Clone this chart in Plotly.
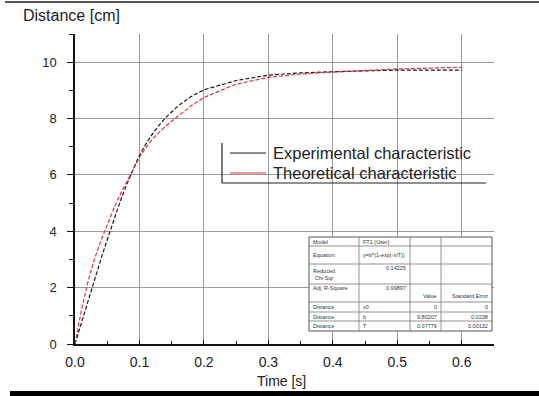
import plotly.graph_objects as go

# ---- data ----
time_exp = [0, 0.01, 0.02, 0.03, 0.04, 0.05, 0.06, 0.07, 0.08, 0.09, 0.10, 0.11, 0.12, 0.13, 0.14, 0.16,
            0.18, 0.20, 0.25, 0.30, 0.35, 0.40, 0.45, 0.50, 0.55, 0.60]
dist_exp = [0, 0.75, 1.55, 2.3, 3.0, 3.7, 4.4, 5.05, 5.65, 6.2, 6.7, 7.1, 7.45, 7.75, 8.02, 8.45,
            8.78, 9.02, 9.35, 9.54, 9.62, 9.66, 9.69, 9.72, 9.72, 9.72]
time_theo = [0, 0.01, 0.02, 0.03, 0.04, 0.05, 0.06, 0.07, 0.08, 0.09, 0.10, 0.11, 0.12, 0.14, 0.16,
             0.18, 0.20, 0.25, 0.30, 0.35, 0.40, 0.45, 0.50, 0.55, 0.60]
dist_theo = [0, 1.2, 2.2, 3.0, 3.65, 4.25, 4.8, 5.3, 5.75, 6.2, 6.62, 6.97, 7.27, 7.72, 8.1,
             8.45, 8.75, 9.22, 9.46, 9.58, 9.65, 9.71, 9.76, 9.79, 9.82]

x_ticks = [0.0, 0.1, 0.2, 0.3, 0.4, 0.5, 0.6]
y_ticks = [0, 2, 4, 6, 8, 10]

legend_names = ["Experimental characteristic", "Theoretical characteristic"]
series_colors = ["#1a1a1a", "#e0303c"]

table_col1 = ["Model", "Equation", "Reduced<br>Chi-Sqr", "Adj. R-Square", "Distance", "Distance", "Distance"]
table_col2 = ["FT1 (User)", "y=b*(1-exp(-x/T))", "0.14225", "0.99897", "x0", "b", "T"]
table_col3 = ["", "", "", "Value", "0", "9.80207", "0.07779"]
table_col4 = ["", "", "", "Standard Error", "0", "0.0238", "0.00132"]

# ---- layout geometry (pixels) ----
W, H = 539, 396
L, R, T, B = 75, 45, 34, 52
PW, PH = W - L - R, H - T - B


def px(x):
    return (x - L) / PW


def py(y):
    return (H - B - y) / PH


FONT = "Liberation Sans, Arial, sans-serif"

fig = go.Figure()
fig.add_trace(go.Scatter(x=time_exp, y=dist_exp, mode="lines", name=legend_names[0], showlegend=False,
                         line=dict(color=series_colors[0], width=1.2, dash="4px,2px")))
fig.add_trace(go.Scatter(x=time_theo, y=dist_theo, mode="lines", name=legend_names[1], showlegend=False,
                         line=dict(color=series_colors[1], width=1.2, dash="4px,2px")))

shapes = []
annotations = []

# top thin line and bottom thick bar
shapes.append(dict(type="line", xref="paper", yref="paper", x0=px(5), x1=px(539), y0=py(2), y1=py(2),
                   line=dict(color="#222", width=1.5)))
shapes.append(dict(type="rect", xref="paper", yref="paper", x0=px(10), x1=px(540), y0=py(391), y1=py(397),
                   fillcolor="black", line=dict(width=0)))
# legend L-shaped frame
shapes.append(dict(type="line", xref="paper", yref="paper", x0=px(222), x1=px(222), y0=py(143), y1=py(183),
                   line=dict(color="#222", width=1.2)))
shapes.append(dict(type="line", xref="paper", yref="paper", x0=px(222), x1=px(486), y0=py(183), y1=py(183),
                   line=dict(color="#222", width=1.2)))
# legend items
for i, (name, col) in enumerate(zip(legend_names, series_colors)):
    yy = 153 + 20 * i
    shapes.append(dict(type="line", xref="paper", yref="paper", x0=px(230), x1=px(266), y0=py(yy), y1=py(yy),
                       line=dict(color=col, width=1)))
    annotations.append(dict(x=px(271), y=py(yy), xref="paper", yref="paper", text=name, showarrow=False,
                            xanchor="left", yanchor="middle",
                            font=dict(family=FONT, size=16.5, color="#222")))

# fit table
tx0, tx1 = 309, 492
cols = [309, 359, 410, 441, 492]
rows = [237, 246, 264, 284, 302, 312, 321, 331]
shapes.append(dict(type="rect", xref="paper", yref="paper", x0=px(tx0), x1=px(tx1), y0=py(rows[0]), y1=py(rows[-1]),
                   fillcolor="white", line=dict(color="#555", width=1), layer="above"))
for c in cols[1:-1]:
    shapes.append(dict(type="line", xref="paper", yref="paper", x0=px(c), x1=px(c), y0=py(rows[0]), y1=py(rows[-1]),
                       line=dict(color="#777", width=0.8)))
for r in rows[1:-1]:
    shapes.append(dict(type="line", xref="paper", yref="paper", x0=px(tx0), x1=px(tx1), y0=py(r), y1=py(r),
                       line=dict(color="#777", width=0.8)))

TF = dict(family=FONT, size=5.5, color="#333")


def cell(x, y, text, anchor):
    annotations.append(dict(x=px(x), y=py(y), xref="paper", yref="paper", text=text,
                            showarrow=False, xanchor=anchor, yanchor="middle", font=TF))


for i in range(7):
    ytop, ybot = rows[i], rows[i + 1]
    yc = (ytop + ybot) / 2
    if i == 3:
        cell(cols[0] + 2, ytop + 4, table_col1[i], "left")
        cell(cols[2] - 2, ytop + 4, table_col2[i], "right")
        cell(cols[3] - 2, ybot - 6, table_col3[i], "right")
        cell(cols[4] - 2, ybot - 6, table_col4[i], "right")
        continue
    cell(cols[0] + 2, yc, table_col1[i], "left")
    if i == 2:
        cell(cols[2] - 2, ytop + 4, table_col2[i], "right")
    else:
        cell(cols[1] + 2, yc, table_col2[i], "left")
    if table_col3[i]:
        cell(cols[3] - 2, yc, table_col3[i], "right")
    if table_col4[i]:
        cell(cols[4] - 2, yc, table_col4[i], "right")

# axis titles
annotations.append(dict(x=px(21), y=py(16), xref="paper", yref="paper", text="Distance [cm]", showarrow=False,
                        xanchor="left", yanchor="middle", font=dict(family=FONT, size=16, color="#222")))
annotations.append(dict(x=px(281), y=py(381), xref="paper", yref="paper", text="Time [s]", showarrow=False,
                        xanchor="center", yanchor="middle", font=dict(family=FONT, size=14, color="#222")))

fig.update_layout(
    width=W, height=H,
    margin=dict(l=L, r=R, t=T, b=B, pad=0),
    paper_bgcolor="white", plot_bgcolor="white",
    font=dict(family=FONT, size=12, color="#222"),
    shapes=shapes, annotations=annotations,
    showlegend=False,
    xaxis=dict(range=[0, 0.65], tickvals=x_ticks, ticktext=[f"{v:.1f}" for v in x_ticks],
               showgrid=True, gridcolor="#9a9a9a", gridwidth=1, zeroline=False,
               showline=True, linecolor="#111", linewidth=1.5,
               ticks="inside", ticklen=4, tickcolor="#111", tickwidth=1, ticklabelstandoff=4,
               minor=dict(dtick=0.05, ticks="inside", ticklen=3, tickcolor="#111", showgrid=False),
               tickfont=dict(size=14, color="#222")),
    yaxis=dict(range=[0, 11], tickvals=y_ticks,
               showgrid=True, gridcolor="#9a9a9a", gridwidth=1, zeroline=False,
               showline=True, linecolor="#111", linewidth=1.5,
               ticks="outside", ticklen=6, tickcolor="#111", tickwidth=1, ticklabelstandoff=8,
               minor=dict(dtick=1, ticks="outside", ticklen=4, tickcolor="#111", showgrid=False),
               tickfont=dict(size=13, color="#222")),
)

fig.write_html("out.html", config={"displayModeBar": False},
               post_script="document.body.style.margin='0';")
